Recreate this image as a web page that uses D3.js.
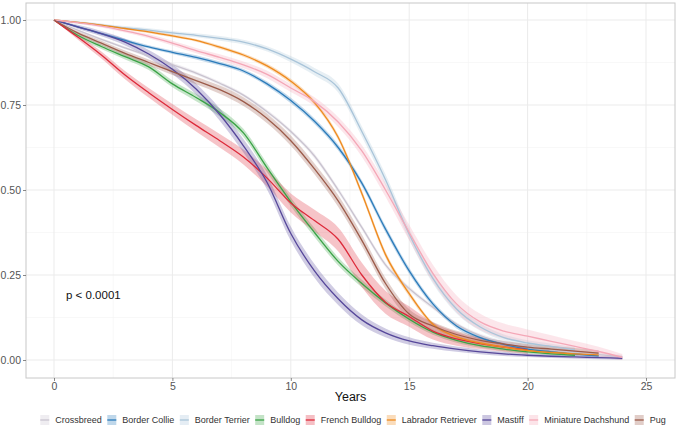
<!DOCTYPE html>
<html>
<head>
<meta charset="utf-8">
<script src="https://cdn.jsdelivr.net/npm/d3@7"></script>
<style>
  html, body { margin: 0; padding: 0; background: #ffffff; }
  svg { display: block; font-family: "Liberation Sans", Arial, Helvetica, sans-serif; }
</style>
</head>
<body>
<svg id="chart" width="680" height="431"></svg>
<script>
// ---------------- DATA ----------------
const years = [0,1,2,3,4,5,6,7,8,9,10,11,12,13,14,15,16,17,18,19,20,21,22,23,24];
const breeds = ["Crossbreed","Border Collie","Border Terrier","Bulldog","French Bulldog","Labrador Retriever","Mastiff","Miniature Dachshund","Pug"];
const colors = ["#c9c3cf","#2b7bba","#a9c4d9","#3aa346","#dd2a3a","#ee8a1e","#56479a","#f4a7b7","#9c5b4a"];

const crossbreedS   = [1,0.97,0.943,0.918,0.894,0.869,0.844,0.814,0.779,0.73,0.672,0.6,0.5,0.39,0.28,0.21,0.155,0.105,0.072,0.052,0.04,0.03,0.022,0.016,0.01];
const borderCollieS = [1,0.98,0.96,0.94,0.921,0.905,0.89,0.872,0.85,0.812,0.763,0.702,0.625,0.52,0.385,0.262,0.165,0.1,0.066,0.046,0.032,0.024,0.017,0.012];
const borderTerrierS= [1,0.993,0.985,0.977,0.97,0.962,0.955,0.946,0.935,0.915,0.885,0.848,0.8,0.672,0.53,0.37,0.24,0.15,0.097,0.066,0.05,0.04,0.03];
const bulldogS      = [1,0.955,0.922,0.892,0.862,0.812,0.772,0.728,0.668,0.565,0.465,0.375,0.29,0.225,0.168,0.12,0.082,0.058,0.042,0.032,0.024,0.018,0.014];
const frenchBulldogS= [1,0.95,0.897,0.838,0.786,0.737,0.69,0.645,0.597,0.535,0.462,0.41,0.355,0.25,0.17,0.128,0.085,0.062,0.048,0.038,0.03];
const labradorS     = [1,0.993,0.985,0.975,0.965,0.953,0.94,0.92,0.897,0.865,0.82,0.757,0.655,0.49,0.31,0.195,0.105,0.068,0.05,0.038,0.028,0.022,0.018,0.015];
const mastiffS      = [1,0.98,0.96,0.935,0.9,0.855,0.797,0.722,0.63,0.522,0.372,0.262,0.18,0.118,0.08,0.056,0.042,0.032,0.024,0.018,0.014,0.011,0.009,0.007,0.005];
const miniDachshundS= [1,0.992,0.982,0.968,0.952,0.932,0.91,0.89,0.868,0.84,0.8,0.76,0.7,0.615,0.5,0.375,0.255,0.165,0.112,0.085,0.07,0.055,0.04,0.025,0.008];
const pugS          = [1,0.962,0.932,0.902,0.875,0.848,0.822,0.795,0.76,0.71,0.645,0.562,0.468,0.352,0.225,0.135,0.1,0.075,0.058,0.047,0.038,0.032,0.026,0.02];

// confidence band half-widths (survival units), same years
const crossbreedCI   = [0,.003,.004,.004,.004,.005,.005,.005,.005,.006,.006,.007,.007,.007,.007,.007,.006,.006,.005,.005,.005,.005,.005,.005,.005];
const borderCollieCI = [0,.003,.004,.005,.005,.005,.006,.006,.006,.007,.008,.008,.009,.009,.01,.009,.008,.007,.006,.005,.005,.005,.005,.005];
const borderTerrierCI= [0,.004,.005,.005,.006,.006,.006,.007,.007,.008,.009,.011,.013,.015,.016,.016,.015,.013,.011,.009,.008,.008,.008];
const bulldogCI      = [0,.006,.007,.008,.009,.01,.011,.012,.012,.013,.013,.013,.012,.011,.01,.009,.008,.007,.006,.006,.005,.005,.005];
const frenchBulldogCI= [0,.007,.01,.012,.014,.016,.018,.02,.022,.025,.028,.032,.035,.036,.034,.03,.025,.02,.016,.014,.012];
const labradorCI     = [0,.002,.003,.003,.004,.004,.004,.005,.005,.006,.007,.007,.008,.009,.009,.008,.006,.005,.005,.004,.004,.004,.004,.004];
const mastiffCI      = [0,.006,.008,.01,.012,.014,.016,.018,.02,.021,.021,.02,.018,.016,.013,.011,.009,.008,.007,.006,.005,.005,.005,.005,.005];
const miniDachshundCI= [0,.003,.004,.005,.006,.007,.008,.009,.01,.011,.012,.013,.015,.017,.02,.023,.025,.025,.024,.022,.02,.018,.016,.014,.01];
const pugCI          = [0,.005,.007,.008,.009,.01,.011,.012,.013,.014,.015,.016,.017,.017,.016,.014,.012,.011,.01,.009,.009,.009,.009,.009];

const xTicks = [0,5,10,15,20,25];
const yTicks = [0,0.25,0.5,0.75,1];
const xMinor = [2.5,7.5,12.5,17.5,22.5];
const yMinor = [0.125,0.375,0.625,0.875];
const xTitle = "Years";
const pText = "p < 0.0001";

const survival = [crossbreedS,borderCollieS,borderTerrierS,bulldogS,frenchBulldogS,labradorS,mastiffS,miniDachshundS,pugS];
const bands    = [crossbreedCI,borderCollieCI,borderTerrierCI,bulldogCI,frenchBulldogCI,labradorCI,mastiffCI,miniDachshundCI,pugCI];

// ---------------- LAYOUT ----------------
const svg = d3.select("#chart");
const panel = {left: 26, right: 675, top: 3, bottom: 378};
const x = d3.scaleLinear().domain([0, 25]).range([54, 646]);
const y = d3.scaleLinear().domain([0, 1]).range([360, 20]);

svg.append("rect").attr("x",0).attr("y",0).attr("width",680).attr("height",431).attr("fill","#fff");

// grid minor
const grid = svg.append("g");
grid.selectAll(".xm").data(xMinor).enter().append("line")
  .attr("x1", d=>x(d)).attr("x2", d=>x(d)).attr("y1", panel.top).attr("y2", panel.bottom)
  .attr("stroke","#f4f4f4").attr("stroke-width",0.6);
grid.selectAll(".ym").data(yMinor).enter().append("line")
  .attr("y1", d=>y(d)).attr("y2", d=>y(d)).attr("x1", panel.left).attr("x2", panel.right)
  .attr("stroke","#f4f4f4").attr("stroke-width",0.6);
// grid major
grid.selectAll(".xM").data(xTicks).enter().append("line")
  .attr("x1", d=>x(d)).attr("x2", d=>x(d)).attr("y1", panel.top).attr("y2", panel.bottom)
  .attr("stroke","#ebebeb").attr("stroke-width",1);
grid.selectAll(".yM").data(yTicks).enter().append("line")
  .attr("y1", d=>y(d)).attr("y2", d=>y(d)).attr("x1", panel.left).attr("x2", panel.right)
  .attr("stroke","#ebebeb").attr("stroke-width",1);

// bands then lines
const plot = svg.append("g");
const area = d3.area()
  .x(d => x(d.t)).y0(d => y(Math.max(0, d.s - d.ci))).y1(d => y(Math.min(1, d.s + d.ci)))
  .curve(d3.curveMonotoneX);
const line = d3.line().x(d => x(d.t)).y(d => y(d.s)).curve(d3.curveMonotoneX);

const seriesData = breeds.map((b, i) => ({
  name: b, color: colors[i],
  pts: survival[i].map((s, j) => ({t: years[j], s: s, ci: bands[i][j]}))
}));

plot.selectAll(".band").data(seriesData).enter().append("path")
  .attr("d", d => area(d.pts)).attr("fill", d => d.color).attr("fill-opacity", 0.28).attr("stroke","none");
plot.selectAll(".ln").data(seriesData).enter().append("path")
  .attr("d", d => line(d.pts)).attr("fill","none").attr("stroke", d => d.color).attr("stroke-width", 1.3);

// panel border
svg.append("rect").attr("x", panel.left).attr("y", panel.top)
  .attr("width", panel.right - panel.left).attr("height", panel.bottom - panel.top)
  .attr("fill","none").attr("stroke","#c8c8c8").attr("stroke-width",1);

// axes
const xAxis = d3.axisBottom(x).tickValues(xTicks).tickSize(3).tickPadding(2).tickFormat(d3.format("d"));
const yAxis = d3.axisLeft(y).tickValues(yTicks).tickSize(3).tickPadding(2).tickFormat(d3.format(".2f"));
const gx = svg.append("g").attr("transform", `translate(0,${panel.bottom})`).call(xAxis);
const gy = svg.append("g").attr("transform", `translate(${panel.left},0)`).call(yAxis);
[gx, gy].forEach(g => {
  g.select(".domain").remove();
  g.selectAll(".tick line").attr("stroke","#6a6a6a").attr("stroke-width",0.8);
  g.selectAll(".tick text").attr("fill","#555").attr("font-size","10.5px")
    .attr("font-family","'Liberation Sans', Arial, sans-serif");
});

// x title
svg.append("text").attr("x", (panel.left + panel.right)/2).attr("y", 401)
  .attr("text-anchor","middle").attr("font-size","12.5px").attr("fill","#111").text(xTitle);

// p-value
svg.append("text").attr("x", 66).attr("y", 299).attr("font-size","11.5px").attr("fill","#111").text(pText);

// legend
const leg = svg.append("g");
let cx = 0;
seriesData.forEach(d => {
  const g = leg.append("g");
  g.append("rect").attr("x", 0).attr("y", -5).attr("width", 9).attr("height", 10)
    .attr("fill", d.color).attr("fill-opacity", 0.3);
  g.append("line").attr("x1", 0).attr("x2", 9).attr("y1", 0).attr("y2", 0)
    .attr("stroke", d.color).attr("stroke-width", 1.3);
  const t = g.append("text").attr("x", 15).attr("y", 3.3).attr("font-size","9px").attr("fill","#333").text(d.name);
  const w = 15 + t.node().getComputedTextLength();
  g.attr("transform", `translate(${cx},0)`);
  cx += w + 5.5;
});
const total = cx - 5.5;
leg.attr("transform", `translate(${353 - total/2},420)`);
</script>
</body>
</html>
